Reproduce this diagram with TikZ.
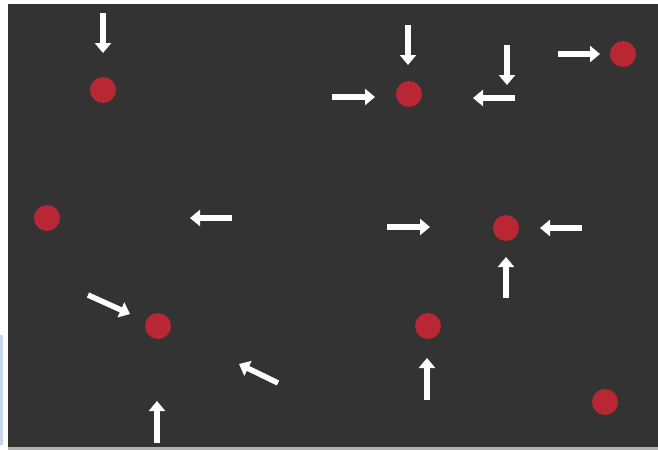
\documentclass[tikz,border=0pt]{standalone}
\usepackage{tikz}
\usetikzlibrary{arrows.meta}

\definecolor{bgdark}{RGB}{51,51,51}
\definecolor{dotred}{RGB}{185,38,52}
\definecolor{edgeblue}{RGB}{200,215,235}

\tikzset{
  reddot/.style={circle,fill=dotred,draw=none,minimum size=26pt,inner sep=0pt},
  push/.style={draw=white,line width=5.5pt,-{Triangle[width=16pt,length=10pt]}}
}

\begin{document}
\begin{tikzpicture}[x=1pt,y=-1pt]
\useasboundingbox (0,0) rectangle (658,450);
\fill[white] (0,0) rectangle (658,450);
\fill[bgdark] (8,4) rectangle (658,447);
\fill[gray!60] (8,447) rectangle (658,450);
\fill[edgeblue] (0,335) rectangle (3,445);
% red dots
\node[reddot] (d1) at (103,90) {};
\node[reddot] (d2) at (409,94) {};
\node[reddot] (d3) at (623,54) {};
\node[reddot] (d4) at (47,218) {};
\node[reddot] (d5) at (506,228) {};
\node[reddot] (d6) at (158,326) {};
\node[reddot] (d7) at (428,326) {};
\node[reddot] (d8) at (605,402) {};
% arrows
\draw[push] (103,13) -- (103,53);
\draw[push] (408,25) -- (408,65);
\draw[push] (332,97) -- (375,97);
\draw[push] (507,45) -- (507,85);
\draw[push] (515,98) -- (473,98);
\draw[push] (558,54) -- (600,54);
\draw[push] (232,218) -- (190,218);
\draw[push] (387,227) -- (430,227);
\draw[push] (582,228) -- (540,228);
\draw[push] (506,298) -- (506,257);
\draw[push] (88,295) -- (130,314);
\draw[push] (427,400) -- (427,358);
\draw[push] (278,383) -- (239,364);
\draw[push] (157,443) -- (157,401);
\end{tikzpicture}
\end{document}
